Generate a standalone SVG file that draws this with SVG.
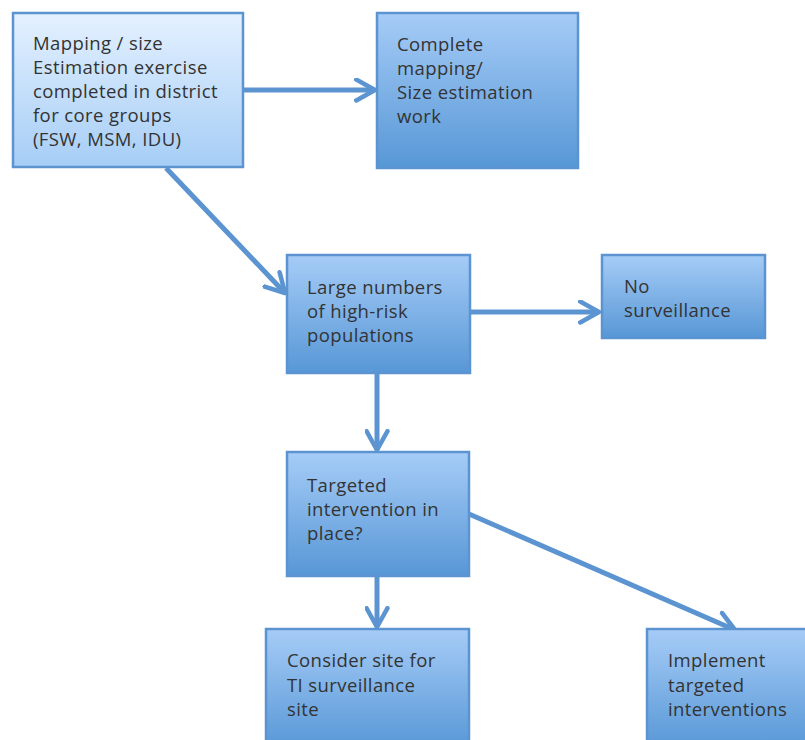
<svg xmlns="http://www.w3.org/2000/svg" width="805" height="740" viewBox="0 0 805 740">
<defs>
<linearGradient id="gLight" x1="0" y1="0" x2="0" y2="1">
<stop offset="0" stop-color="#e4f1ff"/>
<stop offset="1" stop-color="#a6cdf6"/>
</linearGradient>
<linearGradient id="gBlue" x1="0" y1="0" x2="0" y2="1">
<stop offset="0" stop-color="#a6ccf7"/>
<stop offset="1" stop-color="#5797d6"/>
</linearGradient>
<marker id="arr" viewBox="0 0 12 12" refX="10" refY="6" markerWidth="5" markerHeight="5" orient="auto" markerUnits="strokeWidth">
<path d="M1,1 L10,6 L1,11" fill="none" stroke="#5b94d0" stroke-width="2.2" stroke-linecap="round" stroke-linejoin="round"/>
</marker>
</defs>
<style>
.box{stroke:#5b94d0;stroke-width:2.5}
.lt{fill:url(#gLight)}
.bl{fill:url(#gBlue)}
text{font-family:"Open Sans","Liberation Sans",sans-serif;font-size:18.5px;letter-spacing:0.4px;fill:#333}
.c{fill:none;stroke:#5b94d0;stroke-width:5;marker-end:url(#arr)}
</style>
<rect width="805" height="740" fill="#fff"/>
<g id="connectors">
<line class="c" x1="243" y1="90" x2="375" y2="90"/>
<line class="c" x1="166" y1="168" x2="285" y2="293"/>
<line class="c" x1="470" y1="312" x2="599" y2="312"/>
<line class="c" x1="377" y1="374" x2="377" y2="450"/>
<line class="c" x1="469" y1="514" x2="735" y2="630"/>
<line class="c" x1="377" y1="577" x2="377" y2="627"/>
</g>
<g id="n1">
<rect class="box lt" x="13" y="13" width="230" height="154"/>
<text x="33" y="50">Mapping / size</text>
<text x="33" y="74">Estimation exercise</text>
<text x="33" y="98">completed in district</text>
<text x="33" y="122">for core groups</text>
<text x="33" y="146">(FSW, MSM, IDU)</text>
</g>
<g id="n2">
<rect class="box bl" x="377" y="13" width="201" height="155"/>
<text x="397" y="51">Complete</text>
<text x="397" y="75">mapping/</text>
<text x="397" y="99">Size estimation</text>
<text x="397" y="123">work</text>
</g>
<g id="n3">
<rect class="box bl" x="287" y="255" width="183" height="118"/>
<text x="307" y="294">Large numbers</text>
<text x="307" y="318">of high-risk</text>
<text x="307" y="342">populations</text>
</g>
<g id="n4">
<rect class="box bl" x="602" y="255" width="163" height="83"/>
<text x="624" y="293">No</text>
<text x="624" y="317">surveillance</text>
</g>
<g id="n5">
<rect class="box bl" x="287" y="452" width="182" height="124"/>
<text x="307" y="492">Targeted</text>
<text x="307" y="516">intervention in</text>
<text x="307" y="540">place?</text>
</g>
<g id="n6">
<rect class="box bl" x="266" y="629" width="203" height="120"/>
<text x="287" y="667">Consider site for</text>
<text x="287" y="692">TI surveillance</text>
<text x="287" y="716">site</text>
</g>
<g id="n7">
<rect class="box bl" x="647" y="629" width="170" height="120"/>
<text x="668" y="667">Implement</text>
<text x="668" y="692">targeted</text>
<text x="668" y="716">interventions</text>
</g>
</svg>
